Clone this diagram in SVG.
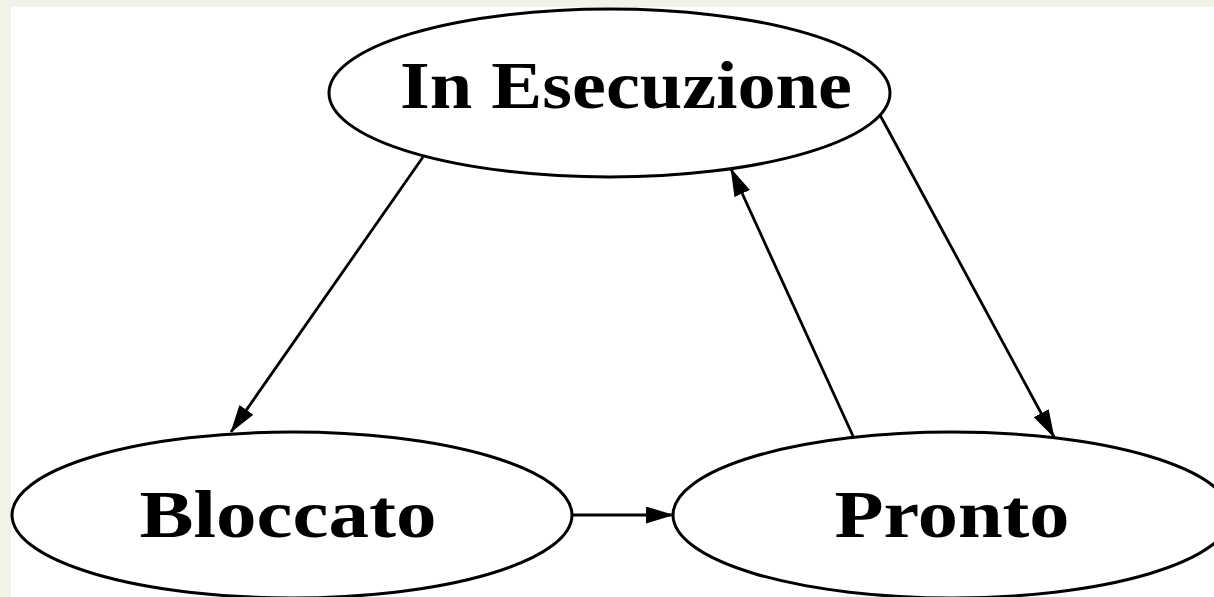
<svg xmlns="http://www.w3.org/2000/svg" width="1214" height="597" viewBox="0 0 1214 597">
  <style>
    .node ellipse { fill: #ffffff; stroke: #000000; stroke-width: 3; }
    .node text { font-family: "Liberation Serif", "DejaVu Serif", serif; font-weight: bold; font-size: 68px; fill: #000000; text-anchor: middle; }
    .edge { stroke: #000000; stroke-width: 2.8; fill: none; marker-end: url(#arrow); }
  </style>
  <defs>
    <marker id="arrow" viewBox="0 0 28 17" refX="27" refY="8.5" markerWidth="28" markerHeight="17" markerUnits="userSpaceOnUse" orient="auto">
      <path d="M0,0 L28,8.5 L0,17 Z" fill="#000000"/>
    </marker>
  </defs>

  <!-- page background and white slide area -->
  <rect x="0" y="0" width="1214" height="597" fill="#f3f2e7"/>
  <rect x="11" y="7" width="1203" height="590" fill="#ffffff"/>

  <g id="node-esecuzione" class="node">
    <ellipse cx="609.5" cy="93" rx="280.5" ry="84"/>
    <text x="626" y="108" textLength="452" lengthAdjust="spacingAndGlyphs">In Esecuzione</text>
  </g>

  <g id="node-bloccato" class="node">
    <ellipse cx="292" cy="515" rx="280" ry="83"/>
    <text x="288" y="537" textLength="297" lengthAdjust="spacingAndGlyphs">Bloccato</text>
  </g>

  <g id="node-pronto" class="node">
    <ellipse cx="952" cy="515" rx="279" ry="83"/>
    <text x="952" y="537" textLength="235" lengthAdjust="spacingAndGlyphs">Pronto</text>
  </g>

  <g id="connectors">
    <line class="edge" x1="423" y1="157" x2="231" y2="432"/>
    <line class="edge" x1="853" y1="436" x2="731" y2="169"/>
    <line class="edge" x1="880" y1="115" x2="1054" y2="437"/>
    <line class="edge" x1="572" y1="515" x2="673" y2="515"/>
  </g>
</svg>
